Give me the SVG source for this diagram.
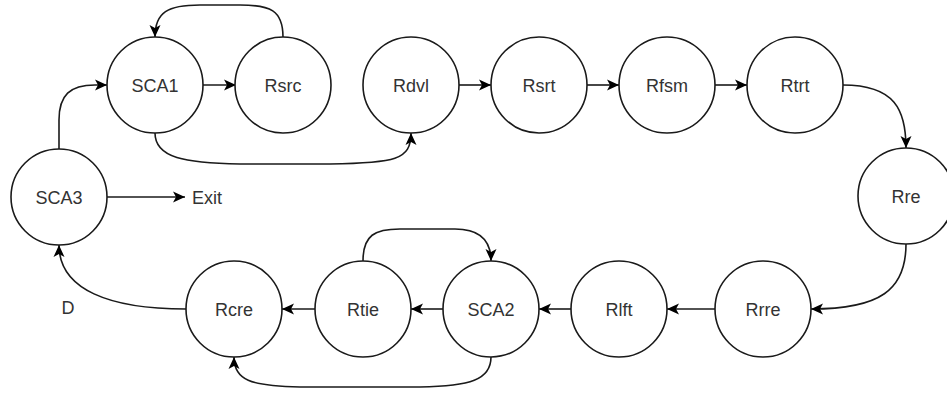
<svg xmlns="http://www.w3.org/2000/svg" width="947" height="393" viewBox="0 0 947 393">
  <style>
    .node circle { fill: #ffffff; stroke: #1a1a1a; stroke-width: 1.6; }
    .node text, .label { font-family: "Liberation Sans", Arial, sans-serif; font-size: 18px; fill: #333333; }
    .node text { text-anchor: middle; }
    #edges path { fill: none; stroke: #1a1a1a; stroke-width: 1.6; marker-end: url(#arrow); }
  </style>
  <defs>
    <marker id="arrow" viewBox="0 -6 12 12" refX="12" refY="0" markerWidth="12" markerHeight="12" markerUnits="userSpaceOnUse" orient="auto">
      <path d="M0,-5.5 L12,0 L0,5.5 L3,0 Z" fill="#000000"/>
    </marker>
  </defs>

  <rect width="947" height="393" fill="#ffffff"/>

  <!-- connectors -->
  <g id="edges">
    <path d="M203,85 L236,85"/>
    <path d="M283,37 C283,10 270,5 240,5 L200,5 C168,5 155,12 155,37"/>
    <path d="M155,133 C155,158 185,163 240,164 L330,164 C395,163 411,160 411,133"/>
    <path d="M459,85 L491,85"/>
    <path d="M587,85 L619,85"/>
    <path d="M715,85 L747,85"/>
    <path d="M843,85 C895,85 906,110 906,148"/>
    <path d="M906,244 C906,290 880,309 811,309"/>
    <path d="M715,309 L667,309"/>
    <path d="M571,309 L539,309"/>
    <path d="M443,309 L411,309"/>
    <path d="M315,309 L282,309"/>
    <path d="M363,261 C363,235 375,229 400,229 L455,229 C480,229 491,240 491,261"/>
    <path d="M491,357 C491,380 470,386 420,387 L300,387 C250,386 234,380 234,357"/>
    <path d="M186,309 C110,309 59,290 59,245"/>
    <path d="M59,149 L59,120 C59,95 70,85 95,85 L107,85"/>
    <path d="M107,197 L185,197"/>
  </g>

  <!-- states -->
  <g id="SCA1" class="node"><circle cx="155" cy="85" r="48"/><text x="155" y="91.5">SCA1</text></g>
  <g id="Rsrc" class="node"><circle cx="283" cy="85" r="48"/><text x="283" y="91.5">Rsrc</text></g>
  <g id="Rdvl" class="node"><circle cx="411" cy="85" r="48"/><text x="411" y="91.5">Rdvl</text></g>
  <g id="Rsrt" class="node"><circle cx="539" cy="85" r="48"/><text x="539" y="91.5">Rsrt</text></g>
  <g id="Rfsm" class="node"><circle cx="667" cy="85" r="48"/><text x="667" y="91.5">Rfsm</text></g>
  <g id="Rtrt" class="node"><circle cx="795" cy="85" r="48"/><text x="795" y="91.5">Rtrt</text></g>
  <g id="Rre" class="node"><circle cx="906" cy="196" r="48"/><text x="906" y="202.5">Rre</text></g>
  <g id="Rrre" class="node"><circle cx="763" cy="309" r="48"/><text x="763" y="315.5">Rrre</text></g>
  <g id="Rlft" class="node"><circle cx="619" cy="309" r="48"/><text x="619" y="315.5">Rlft</text></g>
  <g id="SCA2" class="node"><circle cx="491" cy="309" r="48"/><text x="491" y="315.5">SCA2</text></g>
  <g id="Rtie" class="node"><circle cx="363" cy="309" r="48"/><text x="363" y="315.5">Rtie</text></g>
  <g id="Rcre" class="node"><circle cx="234" cy="309" r="48"/><text x="234" y="315.5">Rcre</text></g>
  <g id="SCA3" class="node"><circle cx="59" cy="197" r="48"/><text x="59" y="203.5">SCA3</text></g>

  <!-- free labels -->
  <g id="Exit"><text class="label" x="192" y="204">Exit</text></g>
  <g id="label-D"><text class="label" x="68" y="314" text-anchor="middle">D</text></g>
</svg>
